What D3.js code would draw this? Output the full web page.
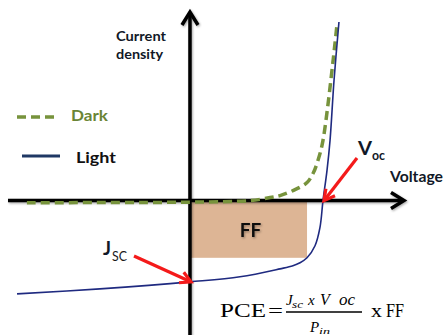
<!DOCTYPE html>
<html>
<head>
<meta charset="utf-8">
<script src="https://cdn.jsdelivr.net/npm/d3@7"></script>
<style>
  html, body { margin: 0; padding: 0; background: #fff; }
  svg { display: block; }
</style>
</head>
<body>
<svg id="chart" width="444" height="335"></svg>
<script>
// J–V characteristics of a solar cell (normalised units: Voc = 1, Jsc = -1)
const darkVoltage  = [-1.226, 0, 0.451, 0.602, 0.677, 0.774, 0.880, 0.925, 0.962, 1.000, 1.105];
const darkCurrent  = [-0.025, -0.019, 0, 0.037, 0.062, 0.123, 0.222, 0.333, 0.494, 0.741, 2.160];

const lightVoltage = [-1.30, -0.677, 0, 0.376, 0.677, 0.774, 0.827, 0.880, 0.940, 0.977, 1.000, 1.030, 1.053, 1.083, 1.120];
const lightCurrent = [-1.148, -1.086, -1.0, -0.938, -0.84, -0.802, -0.765, -0.704, -0.556, -0.333, 0, 0.370, 0.741, 1.481, 2.198];

// Key points
const Voc = 1.0;
const Jsc = -1.0;
const Vmp = 0.880;   // maximum power point
const Jmp = -0.704;

const legendLabels = ["Dark", "Light"];
const axisLabels = { y: ["Current", "density"], x: "Voltage" };

const svg = d3.select("#chart");

const x = d3.scaleLinear().domain([-1.368, 1.609]).range([8, 404]);
const y = d3.scaleLinear().domain([-1.654, 2.321]).range([335, 12]);

const defs = svg.append("defs");
const shadow = defs.append("filter").attr("id", "shadow")
  .attr("x", "-20%").attr("y", "-20%").attr("width", "140%").attr("height", "140%");
shadow.append("feDropShadow").attr("dx", 1).attr("dy", 1.2)
  .attr("stdDeviation", 1).attr("flood-color", "#000").attr("flood-opacity", 0.35);

// Fill-factor rectangle (origin to maximum power point)
svg.append("rect")
  .attr("x", x(0)).attr("y", y(0))
  .attr("width", x(Vmp) - x(0)).attr("height", y(Jmp) - y(0))
  .attr("fill", "#DDB595");

// Axes
const axes = svg.append("g").attr("filter", "url(#shadow)")
  .attr("stroke", "#000").attr("stroke-width", 3.5).attr("fill", "none")
  .attr("stroke-linecap", "butt");
axes.append("line").attr("x1", x.range()[0]).attr("x2", x.range()[1] - 1)
  .attr("y1", y(0)).attr("y2", y(0));
axes.append("line").attr("x1", x(0)).attr("x2", x(0))
  .attr("y1", y.range()[0]).attr("y2", y.range()[1] + 1);
// arrowheads
const xt = x.range()[1], yt = y.range()[1];
axes.append("path").attr("stroke-linejoin", "miter")
  .attr("d", `M${xt - 13},${y(0) - 8} L${xt},${y(0)} L${xt - 13},${y(0) + 8}`);
axes.append("path").attr("stroke-linejoin", "miter")
  .attr("d", `M${x(0) - 8},${yt + 13} L${x(0)},${yt} L${x(0) + 8},${yt + 13}`);

const line = d3.line().x(d => x(d[0])).y(d => y(d[1])).curve(d3.curveCatmullRom.alpha(0.5));

// Dark curve
svg.append("path")
  .datum(d3.zip(darkVoltage, darkCurrent))
  .attr("d", line)
  .attr("fill", "none").attr("stroke", "#77933C").attr("stroke-width", 3.5)
  .attr("stroke-dasharray", "9,5");

// Light curve
svg.append("path")
  .datum(d3.zip(lightVoltage, lightCurrent))
  .attr("d", line)
  .attr("fill", "none").attr("stroke", "#1F2A80").attr("stroke-width", 1.6);

// Red pointer arrows
function pointer(x1, y1, x2, y2) {
  const a = Math.atan2(y2 - y1, x2 - x1), L = 12, s = 0.5;
  const g = svg.append("g").attr("stroke", "#F41A1A").attr("stroke-width", 3.2).attr("fill", "none");
  g.append("line").attr("x1", x1).attr("y1", y1).attr("x2", x2 - Math.cos(a) * 1.5).attr("y2", y2 - Math.sin(a) * 1.5);
  g.append("path").attr("stroke-linejoin", "miter")
    .attr("d", `M${x2 - L * Math.cos(a - s)},${y2 - L * Math.sin(a - s)} L${x2},${y2} L${x2 - L * Math.cos(a + s)},${y2 - L * Math.sin(a + s)}`);
}
pointer(357, 158, x(Voc) + 1, y(0));
pointer(134, 256, x(0) + 1, y(Jsc));

// Text
const sans = "Lato, 'Open Sans', sans-serif";
const serif = "'Liberation Serif', 'Times New Roman', serif";
function label(t, px, py, size, opts = {}) {
  const el = svg.append("text").text(t)
    .attr("x", px).attr("y", py)
    .attr("font-family", opts.family || sans)
    .attr("font-size", size)
    .attr("font-weight", opts.weight || "bold")
    .attr("font-style", opts.style || "normal")
    .attr("fill", opts.fill || "#111827");
  if (opts.len) el.attr("textLength", opts.len).attr("lengthAdjust", opts.adjust || "spacingAndGlyphs");
  if (opts.anchor) el.attr("text-anchor", opts.anchor);
  if (opts.filter) el.attr("filter", opts.filter);
  return el;
}

label(axisLabels.y[0], 116, 41, 13.5, { len: 50 });
label(axisLabels.y[1], 116, 59, 13.5, { len: 47 });
label(axisLabels.x, 390, 182, 15, { len: 53 });

// legend
svg.append("line").attr("x1", 17).attr("x2", 54).attr("y1", 117).attr("y2", 117)
  .attr("stroke", "#77933C").attr("stroke-width", 3.5).attr("stroke-dasharray", "9,5");
label(legendLabels[0], 71, 121, 15.5, { len: 37, fill: "#6A8535" });
svg.append("line").attr("x1", 22).attr("x2", 60).attr("y1", 156).attr("y2", 156)
  .attr("stroke", "#1F3864").attr("stroke-width", 3);
label(legendLabels[1], 76, 163, 15.5, { len: 40, fill: "#111111" });

// Voc and Jsc labels
label("V", 358, 155, 19, { len: 14 });
label("oc", 372, 160, 13, { len: 13 });
label("J", 103, 255, 18, { len: 8 });
label("SC", 112, 261, 12.5, { len: 15, weight: "normal", fill: "#1a1a1a" });

// Fill factor
label("FF", x(Vmp / 2) + 2, 237, 19, { anchor: "middle", filter: "url(#shadow)", fill: "#111" });

// Efficiency formula
const math = { family: serif, weight: "normal", fill: "#000" };
label("PCE", 220, 317, 19, { ...math, len: 46 });
label("=", 268, 317, 19, { ...math, len: 15 });
label("J", 286, 305, 15, { ...math, style: "italic" });
label("sc", 292, 308, 10, { ...math, style: "italic", len: 11 });
label("x", 308, 305, 15, { ...math, style: "italic" });
label("V", 320, 305, 16, { ...math, style: "italic" });
label("oc", 339, 305, 17, { ...math, style: "italic" });
svg.append("line").attr("x1", 286).attr("x2", 362).attr("y1", 312).attr("y2", 312)
  .attr("stroke", "#000").attr("stroke-width", 1.3);
label("P", 310, 332, 15, { ...math, style: "italic" });
label("in", 319, 334, 9, { ...math, style: "italic", len: 11 });
label("x", 371, 317, 19, { ...math, len: 11 });
label("FF", 386, 317, 19, { ...math, len: 18 });
</script>
</body>
</html>
